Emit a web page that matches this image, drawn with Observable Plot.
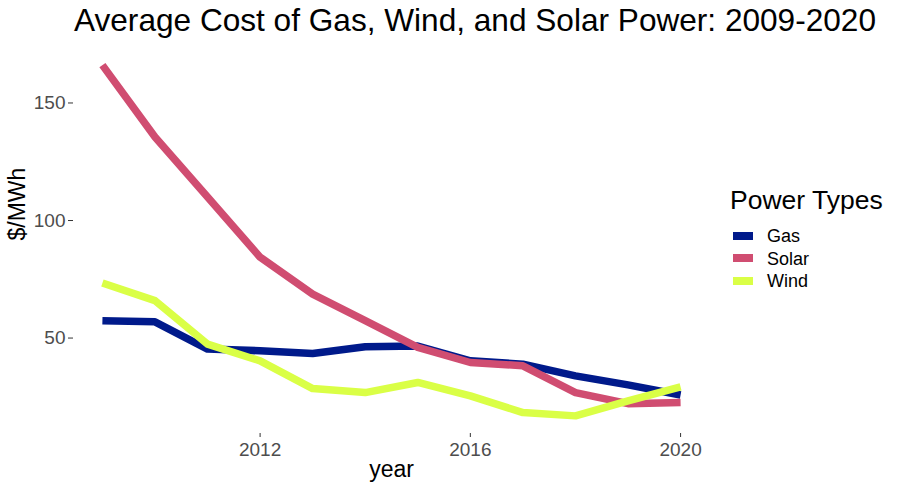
<!DOCTYPE html>
<html>
<head>
<meta charset="utf-8">
<script src="https://cdn.jsdelivr.net/npm/d3@7"></script>
<script src="https://cdn.jsdelivr.net/npm/@observablehq/plot@0.6"></script>
<style>
  html, body { margin: 0; padding: 0; background: #fff; }
  #wrap { position: relative; width: 903px; height: 493px; font-family: "Liberation Sans", Arial, sans-serif; overflow: hidden; }
  #title { position: absolute; left: 74px; top: 5px; font-size: 31.6px; line-height: 1; color: #000; white-space: nowrap; }
  #chart { position: absolute; left: 0; top: 47px; }
  #legend { position: absolute; left: 730px; top: 187px; }
  #legend .lt { font-size: 26.5px; line-height: 1; color: #000; white-space: nowrap; }
  #legend .item { position: absolute; left: 0; white-space: nowrap; }
  #legend .key { position: absolute; left: 3px; width: 20px; height: 8px; }
  #legend .lab { position: absolute; left: 37px; font-size: 18px; line-height: 1; color: #000; }
</style>
</head>
<body>
<div id="wrap">
  <div id="title">Average Cost of Gas, Wind, and Solar Power: 2009-2020</div>
  <div id="chart"></div>
  <div id="legend"><div class="lt">Power Types</div></div>
</div>
<script>
const years = [2009, 2010, 2011, 2012, 2013, 2014, 2015, 2016, 2017, 2018, 2019, 2020];
const gas   = [57.4, 56.9, 45.3, 44.6, 43.4, 46.3, 46.6, 40.3, 38.9, 33.9, 30.1, 25.8];
const solar = [166.1, 135.5, 110.0, 84.4, 68.7, 57.4, 46.0, 39.6, 38.2, 26.8, 22.1, 22.6];
const wind  = [73.4, 65.9, 47.4, 40.3, 28.5, 26.8, 31.1, 25.4, 18.3, 16.9, 23.3, 29.2];
const seriesNames = ["Gas", "Solar", "Wind"];
const seriesColors = ["#001A8B", "#D04D71", "#DAFF46"];
const xTicks = [2012, 2016, 2020];
const yTicks = [50, 100, 150];
const xLabel = "year";
const yLabel = "$/MWh";
const legendTitle = "Power Types";

const seriesValues = [gas, solar, wind];
const data = [];
seriesNames.forEach((name, i) => {
  years.forEach((yr, j) => data.push({year: yr, value: seriesValues[i][j], type: name}));
});

const chart = Plot.plot({
  width: 903,
  height: 446,
  marginLeft: 73,
  marginRight: 194,
  marginTop: 0,
  marginBottom: 60,
  style: { fontFamily: "Liberation Sans, Arial, sans-serif", background: "#fff" },
  x: { domain: [2008.45, 2020.55], ticks: xTicks, tickFormat: "d", label: null },
  y: { domain: [9.4, 173.6], ticks: yTicks, label: null },
  color: { domain: seriesNames, range: seriesColors },
  marks: [
    Plot.axisX({ ticks: xTicks, tickFormat: "d", tickSize: 4, tickPadding: 4.5, fontSize: 19, color: "#4D4D4D", stroke: "#333333", label: null }),
    Plot.axisY({ ticks: yTicks, tickSize: 5, tickPadding: 3, fontSize: 19, color: "#4D4D4D", stroke: "#333333", label: null }),
    Plot.line(data, { x: "year", y: "value", z: "type", stroke: "type", strokeWidth: 7.5, strokeLinecap: "butt", strokeLinejoin: "round" }),
    Plot.text([xLabel], { frameAnchor: "bottom", dy: 43, fontSize: 23, fill: "#000" }),
    Plot.text([yLabel], { frameAnchor: "left", dx: -55.5, rotate: -90, fontSize: 23, fill: "#000" })
  ]
});
document.getElementById("chart").appendChild(chart);

const legend = document.getElementById("legend");
seriesNames.forEach((name, i) => {
  const item = document.createElement("div");
  item.className = "item";
  item.style.top = (44.5 + i * 22.7) + "px";
  const key = document.createElement("div");
  key.className = "key";
  key.style.background = seriesColors[i];
  key.style.top = "0px";
  const lab = document.createElement("div");
  lab.className = "lab";
  lab.style.top = "-4.5px";
  lab.textContent = name;
  item.appendChild(key);
  item.appendChild(lab);
  legend.appendChild(item);
});
</script>
</body>
</html>
